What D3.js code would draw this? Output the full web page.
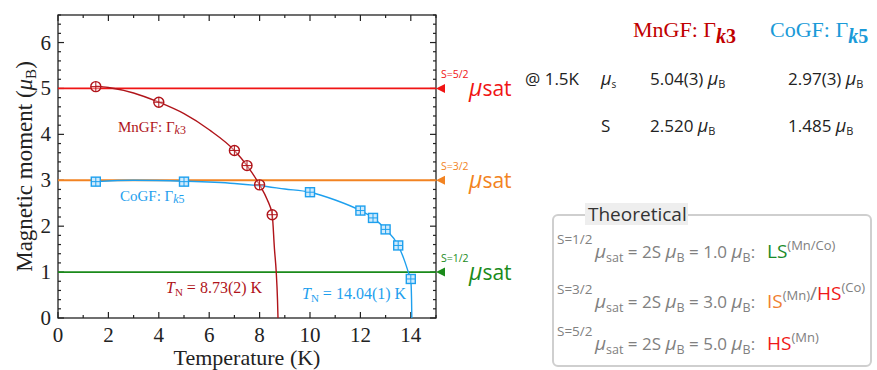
<!DOCTYPE html>
<html>
<head>
<meta charset="UTF-8">
<script src="https://d3js.org/d3.v7.min.js"></script>
<style>
  body { margin: 0; background: white; }
  svg { display: block; }
  .serif { font-family: "Liberation Serif", "DejaVu Serif", serif; }
  .sans { font-family: "Open Sans", "Noto Sans", sans-serif; }
</style>
</head>
<body>
<svg id="chart" width="877" height="370"></svg>
<script>
// measured points
const mnT = [1.5, 4, 7, 7.5, 8, 8.5]
const mnM = [5.04, 4.7, 3.65, 3.32, 2.9, 2.25]
const coT = [1.5, 5, 10, 12, 12.5, 13, 13.5, 14]
const coM = [2.97, 2.97, 2.74, 2.34, 2.18, 1.93, 1.58, 0.85]

// fit curves
const mnFitT = [1.5, 2, 3, 4, 5, 6, 7, 7.5, 8, 8.3, 8.5, 8.59, 8.66, 8.71, 8.73]
const mnFitM = [5.05, 5.02, 4.9, 4.7, 4.45, 4.1, 3.65, 3.32, 2.9, 2.58, 2.25, 1.5, 1.0, 0.4, 0]
const coFitT = [1.5, 3, 5, 7, 8, 9, 10, 11, 12, 12.5, 13, 13.5, 13.75, 13.9, 14.0, 14.03, 14.04]
const coFitM = [2.97, 3.0, 2.98, 2.93, 2.88, 2.81, 2.74, 2.57, 2.34, 2.18, 1.93, 1.58, 1.25, 1.0, 0.82, 0.4, 0]

// saturation levels
const satLevels = [5, 3, 1]
const satSpins = ['S=5/2', 'S=3/2', 'S=1/2']
const satColors = ['#f01414', '#f28322', '#1a8a1a']

const xTicks = [0, 2, 4, 6, 8, 10, 12, 14]
const yTicks = [0, 1, 2, 3, 4, 5, 6]

const svg = d3.select('#chart')
const margin = { left: 58, top: 15, right: 441, bottom: 52 }
const W = 877, H = 370
const x = d3.scaleLinear().domain([0, 15]).range([margin.left, W - margin.right])
const y = d3.scaleLinear().domain([0, 6.6]).range([H - margin.bottom, margin.top])

const mnColor = '#b0141a'
const coColor = '#1ea0ee'

// frame
const g = svg.append('g')
g.append('rect')
  .attr('x', x(0)).attr('y', y(6.6))
  .attr('width', x(15) - x(0)).attr('height', y(0) - y(6.6))
  .attr('fill', 'none').attr('stroke', '#222').attr('stroke-width', 1.3)

// ticks, inward
const xMinor = d3.range(0, 15.01, 1)
const yMinor = d3.range(0, 6.61, 0.2)
function tickLine(x1, y1, x2, y2) {
  g.append('line').attr('x1', x1).attr('y1', y1).attr('x2', x2).attr('y2', y2)
    .attr('stroke', '#222').attr('stroke-width', 1.2)
}
xMinor.forEach(t => {
  const major = Math.round(t) % 2 === 0
  const len = major ? 6 : 3
  tickLine(x(t), y(0), x(t), y(0) - len)
  tickLine(x(t), y(6.6), x(t), y(6.6) + len)
})
yMinor.forEach(t => {
  const major = Math.abs(t - Math.round(t)) < 1e-6
  const len = major ? 6 : 3
  tickLine(x(0), y(t), x(0) + len, y(t))
  tickLine(x(15), y(t), x(15) - len, y(t))
})

g.selectAll('.xl').data(xTicks).enter().append('text')
  .attr('class', 'serif')
  .attr('x', d => x(d)).attr('y', y(0) + 24)
  .attr('text-anchor', 'middle').attr('font-size', 21).attr('fill', '#222')
  .text(d => d)
g.selectAll('.yl').data(yTicks).enter().append('text')
  .attr('class', 'serif')
  .attr('x', x(0) - 7).attr('y', d => y(d) + 7)
  .attr('text-anchor', 'end').attr('font-size', 21).attr('fill', '#222')
  .text(d => d)

// axis titles
g.append('text').attr('class', 'serif')
  .attr('x', (x(0) + x(15)) / 2).attr('y', 365)
  .attr('text-anchor', 'middle').attr('font-size', 22).attr('fill', '#222')
  .text('Temperature (K)')
const yt = g.append('text').attr('class', 'serif')
  .attr('transform', `translate(32, ${(y(0) + y(6.6)) / 2}) rotate(-90)`)
  .attr('text-anchor', 'middle').attr('font-size', 23).attr('fill', '#222')
yt.append('tspan').text('Magnetic moment (')
yt.append('tspan').attr('font-style', 'italic').text('μ')
yt.append('tspan').attr('font-size', 15).attr('dy', 4).text('B')
yt.append('tspan').attr('dy', -4).text(')')

// saturation lines
satLevels.forEach((lv, i) => {
  const c = satColors[i]
  g.append('line').attr('x1', x(0)).attr('x2', x(15)).attr('y1', y(lv)).attr('y2', y(lv))
    .attr('stroke', c).attr('stroke-width', 1.8)
  const xe = x(15), ye = y(lv)
  g.append('path').attr('d', `M${xe},${ye} L${xe + 9},${ye - 4.5} L${xe + 9},${ye + 4.5} Z`).attr('fill', c)
  g.append('text').attr('class', 'sans').attr('x', xe + 5).attr('y', ye - 10)
    .attr('font-size', 10.5).attr('fill', c).text(satSpins[i])
  const t = g.append('text').attr('class', 'sans').attr('x', xe + 33).attr('y', ye + 8)
    .attr('font-size', 21).attr('fill', c)
  t.append('tspan').attr('font-style', 'italic').attr('font-size', 23).text('μ')
  t.append('tspan').text('sat')
})

// fit curves
const line = d3.line().x(d => x(d[0])).y(d => y(d[1])).curve(d3.curveMonotoneX)
g.append('path').datum(coFitT.map((t, i) => [t, coFitM[i]]))
  .attr('d', line).attr('fill', 'none').attr('stroke', coColor).attr('stroke-width', 1.4)
g.append('path').datum(mnFitT.map((t, i) => [t, mnFitM[i]]))
  .attr('d', line).attr('fill', 'none').attr('stroke', mnColor).attr('stroke-width', 1.4)

// markers
const co = g.selectAll('.co').data(coT.map((t, i) => [t, coM[i]])).enter().append('g')
  .attr('transform', d => `translate(${x(d[0])},${y(d[1])})`)
co.append('rect').attr('x', -4.5).attr('y', -4.5).attr('width', 9).attr('height', 9)
  .attr('fill', '#cfeafc').attr('stroke', coColor).attr('stroke-width', 1.4)
co.append('path').attr('d', 'M-4.5,0H4.5M0,-4.5V4.5').attr('stroke', coColor).attr('stroke-width', 1)

const mn = g.selectAll('.mn').data(mnT.map((t, i) => [t, mnM[i]])).enter().append('g')
  .attr('transform', d => `translate(${x(d[0])},${y(d[1])})`)
mn.append('circle').attr('r', 5).attr('fill', 'rgba(255,255,255,0.4)')
  .attr('stroke', mnColor).attr('stroke-width', 1.4)
mn.append('path').attr('d', 'M-5,0H5M0,-5V5').attr('stroke', mnColor).attr('stroke-width', 1)

// in-plot labels
function gammaLabel(px, py, name, sub, color, size) {
  const t = g.append('text').attr('class', 'serif').attr('x', px).attr('y', py)
    .attr('font-size', size).attr('fill', color)
  t.append('tspan').text(name + ': Γ')
  t.append('tspan').attr('font-style', 'italic').attr('font-size', size * 0.8).attr('dy', 2).text('k')
  t.append('tspan').attr('font-size', size * 0.8).text(sub)
  return t
}
gammaLabel(118, 132, 'MnGF', '3', mnColor, 15)
gammaLabel(120, 201, 'CoGF', '5', coColor, 15)

function tnLabel(px, py, val, color) {
  const t = g.append('text').attr('class', 'serif').attr('x', px).attr('y', py)
    .attr('font-size', 16).attr('fill', color)
  t.append('tspan').attr('font-style', 'italic').text('T')
  t.append('tspan').attr('font-size', 11).attr('dy', 3).text('N')
  t.append('tspan').attr('dy', -3).text(' = ' + val + ' K')
}
tnLabel(166, 293, '8.73(2)', mnColor)
tnLabel(302, 299, '14.04(1)', coColor)

// right-hand table
function header(px, name, sub, color) {
  const t = svg.append('text').attr('class', 'serif').attr('x', px).attr('y', 37)
    .attr('font-size', 22).attr('fill', color)
  t.append('tspan').text(name + ': Γ')
  t.append('tspan').attr('font-weight', 'bold').attr('font-style', 'italic').attr('font-size', 20).attr('dy', 6).text('k')
  t.append('tspan').attr('font-weight', 'bold').attr('font-size', 20).text(sub)
}
header(633, 'MnGF', '3', '#c00000')
header(770, 'CoGF', '5', '#1a9ad8')

const mnVals = ['5.04(3)', '2.520']
const coVals = ['2.97(3)', '1.485']
const rowY = [85, 132]

svg.append('text').attr('class', 'sans').attr('x', 525).attr('y', rowY[0])
  .attr('font-size', 17).attr('fill', '#222').text('@ 1.5K')
const tb = svg.append('g').attr('class', 'sans').attr('font-size', 17).attr('fill', '#222')
rowY.forEach((ry, i) => {
  const l = tb.append('text').attr('x', 601).attr('y', ry)
  if (i === 0) {
    l.append('tspan').attr('font-style', 'italic').attr('font-size', 18).text('μ')
    l.append('tspan').attr('font-size', 10).attr('dy', 3).text('s')
  } else {
    l.text('S')
  }
  ;[[650, mnVals[i]], [788, coVals[i]]].forEach(([px, v]) => {
    const t = tb.append('text').attr('x', px).attr('y', ry)
    t.append('tspan').text(v + ' ')
    t.append('tspan').attr('font-style', 'italic').attr('font-size', 18).text('μ')
    t.append('tspan').attr('font-size', 11).attr('dy', 3).text('B')
  })
})

// theoretical box
const spins = ['S=1/2', 'S=3/2', 'S=5/2']
const satVals = ['1.0', '3.0', '5.0']
const boxRowY = [258, 308, 350]
svg.append('rect').attr('x', 553).attr('y', 215).attr('width', 318).attr('height', 151)
  .attr('rx', 5).attr('fill', 'white').attr('stroke', '#cfcfcf').attr('stroke-width', 2)
svg.append('rect').attr('x', 585).attr('y', 203).attr('width', 103).attr('height', 22).attr('fill', '#eeeeee')
svg.append('text').attr('class', 'sans').attr('x', 588).attr('y', 221)
  .attr('font-size', 19).attr('fill', '#333').text('Theoretical')

const grey = '#808080'
boxRowY.forEach((ry, i) => {
  svg.append('text').attr('class', 'sans').attr('x', 557).attr('y', ry - 14)
    .attr('font-size', 13.5).attr('fill', grey).text(spins[i])
  const t = svg.append('text').attr('class', 'sans').attr('x', 595).attr('y', ry)
    .attr('font-size', 17).attr('fill', grey)
  t.append('tspan').attr('font-style', 'italic').attr('font-size', 19).text('μ')
  t.append('tspan').attr('font-size', 12.5).attr('dy', 4).text('sat')
  t.append('tspan').attr('dy', -4).text(' = 2S ')
  t.append('tspan').attr('font-style', 'italic').attr('font-size', 19).text('μ')
  t.append('tspan').attr('font-size', 12.5).attr('dy', 4).text('B')
  t.append('tspan').attr('dy', -4).text(' = ' + satVals[i] + ' ')
  t.append('tspan').attr('font-style', 'italic').attr('font-size', 19).text('μ')
  t.append('tspan').attr('font-size', 12.5).attr('dy', 4).text('B')
  t.append('tspan').attr('dy', -4).text(':')
})

function spinTag(t, label, sup, color) {
  t.append('tspan').attr('fill', color).attr('font-size', 19).text(label)
  t.append('tspan').attr('fill', grey).attr('font-size', 13).attr('dy', -8).text(sup)
  t.append('tspan').attr('dy', 8).text('')
}
const r1 = svg.append('text').attr('class', 'sans').attr('x', 767).attr('y', boxRowY[0])
spinTag(r1, 'LS', '(Mn/Co)', '#1a8a2a')
const r2 = svg.append('text').attr('class', 'sans').attr('x', 767).attr('y', boxRowY[1])
spinTag(r2, 'IS', '(Mn)', '#f08030')
r2.append('tspan').attr('fill', grey).attr('font-size', 19).text('/')
spinTag(r2, 'HS', '(Co)', '#f01818')
const r3 = svg.append('text').attr('class', 'sans').attr('x', 767).attr('y', boxRowY[2])
spinTag(r3, 'HS', '(Mn)', '#f01818')
</script>
</body>
</html>
